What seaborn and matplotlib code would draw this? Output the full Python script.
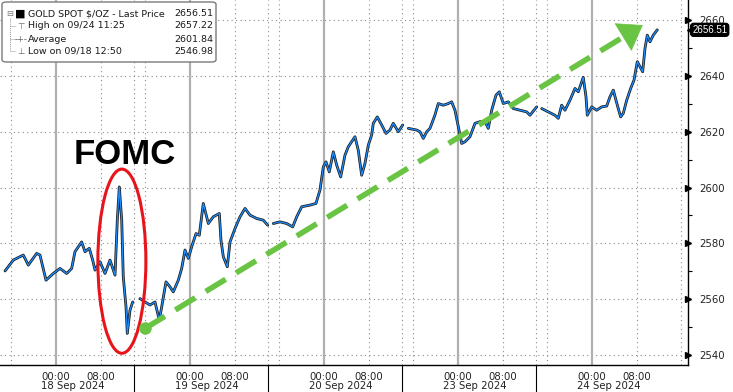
import matplotlib
matplotlib.use("Agg")
import numpy as np
import pandas as pd
import matplotlib.pyplot as plt
import matplotlib.transforms as mtransforms
from matplotlib.patches import Ellipse, FancyBboxPatch
from matplotlib.lines import Line2D
import seaborn as sns

# time axis: hours from 18 Sep 00:00, weekend squeezed out (23 Sep 00:00 = 72)
sess1_t = [-9.13, -7.65, -5.86, -4.96, -3.46, -2.87, -1.79, -0.48, 0.72, 1.92, 2.81,
           3.40, 4.60, 5.19, 5.96, 6.57, 6.99, 7.88, 8.78, 9.67, 10.57, 10.98, 11.34,
           11.77, 12.05, 12.54, 12.77, 13.25, 13.74]
sess1_p = [2570.1, 2574.0, 2575.8, 2572.2, 2576.4, 2575.8, 2566.8, 2569.2, 2571.0, 2569.2,
           2571.0, 2577.0, 2580.5, 2577.0, 2578.2, 2574.0, 2570.4, 2573.4, 2569.2, 2574.0,
           2568.6, 2588.3, 2600.2, 2588.3, 2568.0, 2557.2, 2547.7, 2556.0, 2559.0]

sess2_t = [15.05, 15.94, 16.84, 17.73, 18.50, 18.93, 19.70, 20.42, 21.01, 21.91, 22.51,
           23.11, 23.70, 24.31, 25.08, 25.67, 26.38, 27.28, 28.17, 29.25, 29.55, 29.97,
           30.68, 31.17, 32.06, 32.96, 33.85, 34.75, 35.95, 37.13, 37.92]
sess2_p = [2560.2, 2559.0, 2557.9, 2559.0, 2552.5, 2557.2, 2566.2, 2564.4, 2562.6, 2566.8,
           2571.0, 2577.6, 2574.6, 2578.8, 2583.5, 2582.9, 2594.3, 2587.1, 2589.5, 2590.7,
           2581.1, 2575.2, 2571.6, 2580.5, 2585.3, 2589.5, 2592.5, 2590.1, 2588.9, 2588.3,
           2586.5]

sess3_t = [38.92, 40.12, 41.32, 42.40, 43.11, 44.01, 45.49, 46.57, 47.28, 47.88, 48.36,
           48.95, 49.67, 50.28, 50.99, 51.76, 52.35, 53.55, 54.14, 54.75, 55.34, 55.94,
           56.54, 56.83, 57.55, 58.34, 59.11, 59.82, 60.41, 61.31, 62.10]
sess3_p = [2587.1, 2587.7, 2587.1, 2585.9, 2589.5, 2593.1, 2593.7, 2594.3, 2599.1, 2607.4,
           2609.2, 2605.6, 2612.8, 2608.0, 2603.8, 2611.6, 2614.6, 2618.2, 2613.4, 2604.4,
           2608.6, 2615.2, 2618.8, 2623.0, 2625.3, 2622.4, 2619.4, 2620.6, 2623.0, 2620.0,
           2622.4]

sess4_t = [63.10, 64.60, 65.20, 65.79, 66.40, 66.99, 67.88, 68.47, 69.37, 70.27, 70.87,
           71.46, 72.06, 72.66, 73.26, 74.15, 75.05, 75.94, 76.84, 77.43, 78.04, 78.81,
           79.40, 80.12, 81.01, 81.91, 83.11, 84.31, 84.90, 86.10]
sess4_p = [2621.2, 2620.6, 2620.0, 2617.6, 2620.0, 2621.2, 2626.0, 2630.1, 2629.5, 2630.1,
           2630.7, 2627.7, 2621.8, 2615.8, 2616.4, 2618.2, 2623.0, 2623.6, 2623.6, 2621.2,
           2627.7, 2633.1, 2634.3, 2630.1, 2630.7, 2628.3, 2627.7, 2627.1, 2625.9, 2628.9]

sess5_t = [86.99, 88.18, 89.37, 89.97, 90.57, 91.17, 92.06, 92.96, 93.55, 94.44, 94.93,
           95.16, 95.95, 96.84, 97.74, 98.64, 99.22, 99.82, 100.30, 100.71, 101.14, 101.61,
           102.22, 102.93, 103.53, 104.12, 104.60, 105.08, 105.50, 105.91, 106.39, 106.98,
           107.70]
sess5_p = [2628.3, 2627.1, 2625.9, 2624.8, 2629.5, 2627.7, 2631.3, 2635.5, 2634.3, 2639.5,
           2632.5, 2625.9, 2628.9, 2627.7, 2628.9, 2629.2, 2632.5, 2634.9, 2631.3, 2628.3,
           2625.3, 2626.6, 2631.3, 2635.5, 2638.5, 2645.1, 2643.3, 2641.5, 2649.9, 2654.6,
           2652.2, 2654.6, 2656.51]

day_starts = [0, 24, 48, 72, 96]
day_labels = ["18 Sep 2024", "19 Sep 2024", "20 Sep 2024", "23 Sep 2024", "24 Sep 2024"]
day_breaks = [14, 38, 62, 86]
x_ticks = list(range(-8, 113, 8))
y_ticks = [2540, 2560, 2580, 2600, 2620, 2640, 2660]

legend_rows = ["GOLD SPOT $/OZ - Last Price", "High on 09/24 11:25", "Average", "Low on 09/18 12:50"]
legend_vals = ["2656.51", "2657.22", "2601.84", "2546.98"]
last_price = 2656.51

arrow_start = (15.94, 2549.5)
arrow_end = (105.1, 2658.2)
fomc_center = (11.8, 2573.6)

frames = []
for i, (t, p) in enumerate([(sess1_t, sess1_p), (sess2_t, sess2_p), (sess3_t, sess3_p),
                            (sess4_t, sess4_p), (sess5_t, sess5_p)]):
    frames.append(pd.DataFrame({"t": t, "price": p, "session": i}))
df = pd.concat(frames, ignore_index=True)

sns.set_style("white")
plt.rcParams["font.family"] = ["DejaVu Sans"]

W, H = 733, 392
fig = plt.figure(figsize=(W / 100, H / 100), dpi=100)
ax = fig.add_axes([0, 27 / H, 688 / W, 365 / H])

# grid
for v in y_ticks:
    ax.axhline(v, color="#8c8c8c", lw=0.8, ls=(0, (1, 3)), zorder=0)
for x in x_ticks:
    if x % 24 == 0:
        ax.axvline(x, color="#b0b0b0", lw=1.6, zorder=0)
    else:
        ax.axvline(x, color="#8c8c8c", lw=0.8, ls=(0, (1, 3)), zorder=0)
for x in day_breaks:
    ax.axvline(x, color="#8c8c8c", lw=0.8, ls=(0, (1, 3)), zorder=0)

# price line: dark bars under a blue close line
sns.lineplot(data=df, x="t", y="price", units="session", estimator=None,
             color="#1a1a1a", lw=2.0, ax=ax, zorder=3)
sns.lineplot(data=df, x="t", y="price", units="session", estimator=None,
             color="#1e8fff", lw=0.9, ax=ax, zorder=4)

ax.set_xlim(-10.03, 113.2)
ax.set_ylim(2536.4, 2667.2)
ax.set_xlabel("")
ax.set_ylabel("")

# axes styling
for s in ["left", "top"]:
    ax.spines[s].set_visible(False)
for s in ["right", "bottom"]:
    ax.spines[s].set_color("black")
    ax.spines[s].set_linewidth(1.0)

ax.yaxis.tick_right()
ax.set_yticks(y_ticks)
ax.set_yticklabels([str(v) for v in y_ticks])
ax.set_yticks([v + 10 for v in y_ticks[:-1]], minor=True)
ax.tick_params(axis="y", which="major", length=0, pad=8, labelsize=7.3, labelcolor="#222222")
ax.tick_params(axis="y", which="minor", length=3, width=0.8, color="black", direction="out")
ytr = mtransforms.blended_transform_factory(ax.transAxes, ax.transData)
for v in y_ticks:
    ax.plot([1.0], [v], marker=">", ms=4, color="black", transform=ytr, clip_on=False)

ax.set_xticks(x_ticks)
ax.set_xticklabels(["{:02d}:00".format(x % 24) if x % 24 != 16 else "" for x in x_ticks])
ax.tick_params(axis="x", length=3, width=0.8, color="black", direction="out", pad=2,
               labelsize=7.3, labelcolor="#222222")

xtr = mtransforms.blended_transform_factory(ax.transData, ax.transAxes)
for x in day_breaks:
    ax.plot([x, x], [0, -0.08], color="black", lw=0.8, transform=xtr, clip_on=False)
for x, lab in zip(day_starts, day_labels):
    ax.text(x + 3, -0.058, lab, transform=xtr, ha="center", va="center",
            fontsize=7.3, color="#222222")

# FOMC annotation
ax.add_patch(Ellipse(fomc_center, 8.6, 66, fill=False, ec="#e8141b", lw=2.2, zorder=6))
ax.text(12.3, 2612, "FOMC", fontsize=25, fontweight="bold", family="Liberation Sans",
        ha="center", va="center", color="black", zorder=6)

# green trend arrow: dashed shaft, solid head
green = "#69c443"
p0 = ax.transData.transform(arrow_start)
p1 = ax.transData.transform(arrow_end)
unit = (p1 - p0) / np.hypot(*(p1 - p0))
head_base = ax.transData.inverted().transform(p1 - unit * 20)
ax.plot([arrow_start[0], head_base[0]], [arrow_start[1], head_base[1]], color=green,
        lw=4.0, ls=(0, (4.2, 2.2)), solid_capstyle="butt", zorder=7)
ax.annotate("", xy=arrow_end, xytext=tuple(head_base), zorder=7,
            arrowprops=dict(arrowstyle="-|>,head_length=1.0,head_width=0.7", lw=0.5,
                            color=green, mutation_scale=16, shrinkA=0, shrinkB=0))
ax.plot([arrow_start[0]], [arrow_start[1]], marker="o", ms=8, color=green, zorder=7)

# last price tag
ax.text(1.006, last_price, "2656.51", transform=ytr, ha="left", va="center",
        fontsize=7, family="Liberation Sans", color="white", zorder=8, clip_on=False,
        bbox=dict(boxstyle="round,pad=0.15,rounding_size=0.3", fc="black", ec="black"))
ax.plot([1.004], [last_price], marker="<", ms=6, color="black", transform=ytr, clip_on=False)

# legend box
def fx(x):
    return x / W


def fy(y):
    return 1 - y / H


fig.add_artist(FancyBboxPatch((fx(2), fy(62)), fx(214), 60 / H,
                              boxstyle="round,pad=0,rounding_size=0.006",
                              transform=fig.transFigure, fc="white", ec="#7a7a7a", lw=1.0,
                              zorder=10))
row_y = [14, 26, 39, 51]
for y, lab, val in zip(row_y, legend_rows, legend_vals):
    fig.text(fx(28), fy(y), lab, ha="left", va="center", fontsize=6.8, color="#1a1a1a", zorder=11)
    fig.text(fx(213), fy(y), val, ha="right", va="center", fontsize=6.8, color="#1a1a1a", zorder=11)
fig.text(fx(10), fy(14), "⊟", ha="center", va="center", fontsize=6, color="#777777", zorder=11)
fig.text(fx(20), fy(14), "■", ha="center", va="center", fontsize=8, color="black", zorder=11)
fig.add_artist(Line2D([fx(10), fx(10)], [fy(18), fy(51)], color="#999999", lw=0.7,
                      ls=(0, (1, 1)), transform=fig.transFigure, zorder=11))
for y in row_y[1:]:
    fig.add_artist(Line2D([fx(10), fx(16)], [fy(y), fy(y)], color="#999999", lw=0.7,
                          ls=(0, (1, 1)), transform=fig.transFigure, zorder=11))
for y, sym in zip(row_y[1:], ["⊤", "-+-", "⊥"]):
    fig.text(fx(21), fy(y), sym, ha="center", va="center", fontsize=6, color="#666666", zorder=11)

fig.savefig("out.png", dpi=100)
